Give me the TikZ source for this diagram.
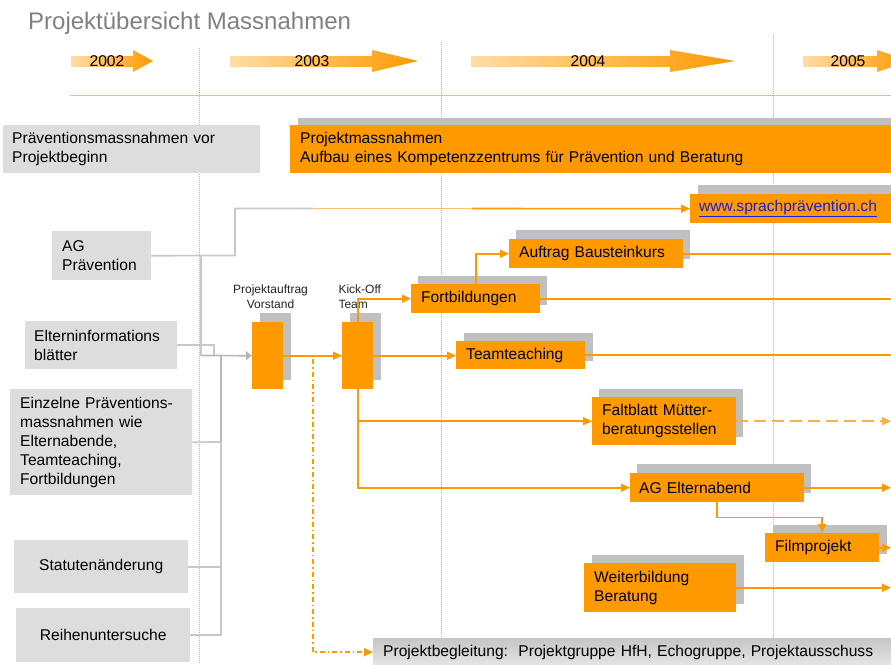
\documentclass[tikz,border=0pt]{standalone}
\usepackage{fontspec}
\setmainfont{Liberation Sans}
\usetikzlibrary{arrows.meta,shadows}
\hyphenpenalty=10000
\exhyphenpenalty=10000
\definecolor{org}{HTML}{FF9900}
\definecolor{lorg}{HTML}{FFC070}
\definecolor{pale}{HTML}{FFDDA6}
\definecolor{gboxc}{HTML}{DDDDDD}
\definecolor{shg}{HTML}{C0C0C0}
\definecolor{gline}{HTML}{C8C8C8}
\definecolor{dline}{HTML}{B8B8B8}
\definecolor{dotc}{HTML}{FFA838}
\definecolor{linkblue}{HTML}{1A1AE0}
\definecolor{titleg}{HTML}{808080}
\definecolor{labg}{HTML}{222222}
\begin{document}
\begin{tikzpicture}[x=1pt,y=-1pt,
  txt/.style={font=\fontsize{15.6}{19}\selectfont},
  gb/.style={txt, fill=gboxc, anchor=north west, inner ysep=0pt, align=left},
  ob/.style={txt, fill=org, anchor=north west, inner ysep=0pt, align=left},
  shd/.style 2 args={general shadow={fill=shg, shadow xshift=#1pt, shadow yshift=#2pt}},
  gl/.style={draw=gline, line width=1.7pt},
  ol/.style={draw=org, line width=1.6pt},
  oa/.style={ol, -{Triangle[length=9pt,width=8pt]}},
  ga/.style={draw=dline, line width=1.7pt, -{Triangle[length=6pt,width=9pt]}},
  dotl/.style={draw=dotc, line width=1pt, dash pattern=on 1pt off 1pt},
  yr/.style={left color=pale, right color=org},
  lab/.style={font=\fontsize{12}{15}\selectfont, text=labg}
]
\useasboundingbox (0,0) rectangle (891,664);
\clip (0,0) rectangle (891,664);
\coordinate (edge) at (891,0);

% grid
\draw[dotl] (199,48) -- (199,664);
\draw[dotl] (441,42) -- (441,664);
\draw[dotl] (773,35) -- (773,664);
\draw[dotl] (70,95) -- (891,95);

% title
\node[font=\fontsize{24}{28}\selectfont, text=titleg, anchor=base west, inner sep=0pt] (title) at (28,29) {Projektübersicht Massnahmen};

% year arrows
\shade[yr] (71,56) -- (133,56) -- (133,50) -- (153,61) -- (133,72) -- (133,67) -- (71,67) -- cycle;
\shade[yr] (230,56) -- (372,56) -- (372,50) -- (418,61) -- (372,72) -- (372,67) -- (230,67) -- cycle;
\shade[yr] (471,56) -- (670,56) -- (670,50) -- (735,61) -- (670,72) -- (670,67) -- (471,67) -- cycle;
\shade[yr] (803,56) -- (877,56) -- (877,50) -- (910,61) -- (877,72) -- (877,67) -- (803,67) -- cycle;
\node[txt] (y2002) at (107,61) {2002};
\node[txt] (y2003) at (312,61) {2003};
\node[txt] (y2004) at (588,61) {2004};
\node[txt] (y2005) at (848,61) {2005};

% boxes
\node[gb, inner xsep=9pt, text width=239pt, minimum height=48pt] (pvor) at (3,125) {Präventionsmassnahmen vor\\Projektbeginn};
\node[ob, shd={8}{7}, inner xsep=10pt, text width=600pt, minimum height=48pt] (pmass) at (290,125) {Projektmassnahmen\\Aufbau eines Kompetenzzentrums für Prävention und Beratung};
\node[ob, shd={8}{9}, inner xsep=9pt, text width=202pt, minimum height=29pt] (www) at (690,194) {{\color{linkblue}\underline{www.sprachprävention.ch}}};
\node[gb, inner xsep=10pt, text width=79pt, minimum height=49pt] (agp) at (52,231) {AG\\Prävention};
\node[ob, shd={7}{9}, inner xsep=10pt, text width=154pt, minimum height=29pt] (baust) at (509,239) {Auftrag Bausteinkurs};
\node[ob, shd={7}{8}, inner xsep=10pt, text width=109pt, minimum height=29pt] (fort) at (411,284) {Fortbildungen};
\node[ob, shd={8}{9}, inner sep=0pt, minimum width=31pt, minimum height=67pt] (pa) at (252,322) {};
\node[ob, shd={8}{9}, inner sep=0pt, minimum width=31pt, minimum height=67pt] (kick) at (342,322) {};
\node[ob, shd={8}{8}, inner xsep=10pt, text width=109pt, minimum height=28pt] (team) at (456,341) {Teamteaching};
\node[gb, inner xsep=9pt, text width=134pt, minimum height=48pt] (eltern) at (25,321) {Elterninformations\\blätter};
\node[gb, inner xsep=10pt, text width=162pt, minimum height=106pt] (einz) at (10,389) {Einzelne Präventions-\\massnahmen wie\\Elternabende,\\Teamteaching,\\Fortbildungen};
\node[ob, shd={7}{8}, inner xsep=10pt, text width=124pt, minimum height=48pt] (falt) at (592,397) {Faltblatt Mütter-\\beratungsstellen};
\node[ob, shd={7}{9}, inner xsep=9pt, text width=156pt, minimum height=29pt] (agel) at (630,473) {AG Elternabend};
\node[ob, shd={8}{8}, inner xsep=10pt, text width=94pt, minimum height=29pt] (film) at (765,533) {Filmprojekt};
\node[ob, shd={8}{8}, inner xsep=10pt, text width=132pt, minimum height=49pt] (weit) at (584,563) {Weiterbildung\\Beratung};
\node[gb, align=center, inner xsep=10pt, text width=154pt, minimum height=53pt] (stat) at (14,540) {Statutenänderung};
\node[gb, align=center, inner xsep=10pt, text width=154pt, minimum height=54pt] (reih) at (16,608) {Reihenuntersuche};
\node[gb, top color=gray!45, bottom color=gray!20, inner xsep=10pt, text width=520pt, minimum height=28pt] (proj) at (373,638) {Projektbegleitung:\ \ Projektgruppe HfH, Echogruppe, Projektausschuss};

% small labels
\node[lab, align=center] (lpa) at (270.5,296.5) {Projektauftrag\\Vorstand};
\node[lab, align=left, anchor=west] (lkick) at (335,296.5) {Kick-Off\\Team};

% gray connectors
\coordinate (wg) at (313,208.5);
\coordinate (wo) at (472,208.5);
\coordinate (j1) at (201,255.5);
\coordinate (j2) at (201,355.5);
\coordinate (j3) at (221,355.5);
\coordinate (j4) at (221,442);
\draw[gl] (agp.east) -- (235,255.5) -- (235,208.5) -- (wg);
\draw[ol, draw=lorg] (wg) -- (wo);
\draw[oa] (wo) -- (www.west);
\draw[gl] (j1) -- (j2);
\draw[gl] (eltern.east) -| (214,355.5);
\draw[draw=dline, line width=2.8pt] (j3) -- (j4);
\draw[gl] (einz.east) -- (j4);
\draw[gl] (stat.east) -| (j4);
\draw[gl] (reih.east) -| (j4);
\draw[ga] (j2) -- (pa.west);

% orange connectors
\draw[oa] (pa.east) -- (kick.west);
\draw[oa] (kick.north) |- (fort.west);
\draw[oa] (kick.east) -- (kick.east -| team.west);
\draw[oa] (kick.south) |- (falt.west);
\draw[oa] (kick.south) |- (agel.west);
\draw[oa] (fort.north) |- (baust.west);
\draw[oa] (agel.south) -- ++(0,15) -| (film.north);
\draw[ol] (baust.east) -- (baust.east -| edge);
\draw[ol] (fort.east) -- (fort.east -| edge);
\draw[ol] (team.east) -- (team.east -| edge);
\draw[oa, draw=lorg!60!org, dash pattern=on 12pt off 6pt] (falt.east) -- (falt.east -| edge);
\draw[oa] (agel.east) -- (agel.east -| edge);
\draw[oa] (film.east) -- (film.east -| edge);
\draw[oa] (weit.east) -- (weit.east -| edge);
\coordinate (dd) at (313,359);
\draw[oa, dash pattern=on 5pt off 3pt on 1.5pt off 3pt] (dd) |- (proj.west);
\end{tikzpicture}
\end{document}
